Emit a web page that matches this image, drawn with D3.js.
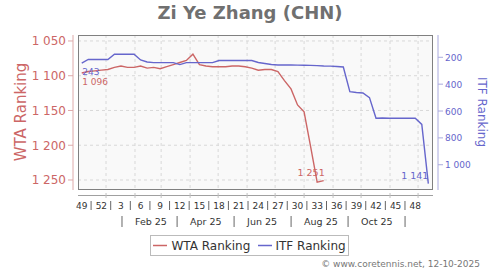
<!DOCTYPE html>
<html><head><meta charset="utf-8">
<script src="https://cdn.jsdelivr.net/npm/d3@7"></script>
<style>body{margin:0;background:#fff}svg{display:block;font-family:"DejaVu Sans",sans-serif}</style>
</head><body>
<script>
// ---------- data ----------
const chartTitle = "Zi Ye Zhang (CHN)";
const firstRankingDate = "2024-12-02";   // weekly rankings from here
const wtaRank = [1096,1094,1093,1092,1091,1088,1086,1088,1088,1086,1089,1088,1090,1087,1084,1081,1078,1069,1084,1086,
                 1087,1087,1087,1086,1086,1087,1089,1092,1091,1091,1094,1107,1119,1142,1152,1202,1253,1251];
const itfRank = [243,216,216,216,216,177,177,177,177,220,235,240,240,240,240,254,240,240,240,240,240,
                 224,224,224,224,224,224,239,246,254,257,257,257,258,259,260,262,265,266,268,272,
                 456,462,466,500,654,652,654,654,654,654,654,700,1141];
const wtaTicks = [1050,1100,1150,1200,1250];
const itfTicks = [200,400,600,800,1000];
const weekLabels = ["49","52","3","6","9","12","15","18","21","24","27","30","33","36","39","42","45","48"];
const monthLabels = ["Feb 25","Apr 25","Jun 25","Aug 25","Oct 25"];
const monthLabelDates = ["2025-02-01","2025-04-01","2025-06-01","2025-08-01","2025-10-01","2025-12-01"];
const gridMonths = ["2025-01-01","2025-02-01","2025-03-01","2025-04-01","2025-05-01","2025-06-01",
                    "2025-07-01","2025-08-01","2025-09-01","2025-10-01","2025-11-01","2025-12-01"];
const xDomain = ["2024-11-28","2025-12-13"];
const wtaDomain = [1041.4, 1264.4];
const itfDomain = [34, 1188];
const seriesNames = ["WTA Ranking","ITF Ranking"];
const copyright = "© www.coretennis.net, 12-10-2025";

// ---------- setup ----------
const W = 500, H = 270;
const red = "#cc6666", blue = "#6666cc";
const parse = d3.timeParse("%Y-%m-%d");
const fmt = d3.formatLocale({decimal:".", thousands:" ", grouping:[3], currency:["",""]}).format(",d");
const plot = {l:78, t:35, r:433, b:190};

const x = d3.scaleTime().domain(xDomain.map(parse)).range([plot.l, plot.r]);
const yW = d3.scaleLinear().domain(wtaDomain).range([plot.t, plot.b]);
const yI = d3.scaleLinear().domain(itfDomain).range([plot.t, plot.b]);

const start = parse(firstRankingDate);
const wtaData = wtaRank.map((v,i)=>({d:d3.timeWeek.offset(start,i), v}));
const itfData = itfRank.map((v,i)=>({d:d3.timeWeek.offset(start,i), v}));
const gridX = gridMonths.map(s => x(d3.timeDay.offset(parse(s), -4)));

const svg = d3.select("body").append("svg").attr("width",W).attr("height",H);

// title
svg.append("text").attr("x",250).attr("y",18.5).attr("text-anchor","middle")
  .attr("font-size",18).attr("font-weight","bold").attr("fill","#707070").text(chartTitle);

// plot background
svg.append("rect").attr("x",plot.l).attr("y",plot.t).attr("width",plot.r-plot.l).attr("height",plot.b-plot.t)
  .attr("fill","#f9f9f9");

// grid
svg.append("g").selectAll("line").data(wtaTicks).join("line")
  .attr("x1",plot.l).attr("x2",plot.r).attr("y1",d=>yW(d)).attr("y2",d=>yW(d))
  .attr("stroke","#d8d8d8").attr("stroke-dasharray","3,3");
svg.append("g").selectAll("line").data(gridX).join("line")
  .attr("x1",d=>d).attr("x2",d=>d).attr("y1",plot.t).attr("y2",plot.b)
  .attr("stroke","#d8d8d8").attr("stroke-dasharray","3,3");

// frame
svg.append("rect").attr("x",plot.l+0.5).attr("y",plot.t+0.5).attr("width",plot.r-plot.l-1).attr("height",plot.b-plot.t-1)
  .attr("fill","none").attr("stroke","#808080");

// left axis
const lax = svg.append("g").attr("transform","translate(73,0)");
lax.append("line").attr("y1",plot.t).attr("y2",plot.b).attr("stroke","#deaaaa");
lax.selectAll("line.t").data(wtaTicks).join("line").attr("class","t")
  .attr("x1",-5).attr("x2",0).attr("y1",d=>yW(d)).attr("y2",d=>yW(d)).attr("stroke","#deaaaa");
lax.selectAll("text").data(wtaTicks).join("text")
  .attr("x",-7).attr("y",d=>yW(d)+4.5).attr("text-anchor","end").attr("font-size",12).attr("fill",red).text(fmt);
svg.append("text").attr("transform","translate(26,112) rotate(-90)").attr("text-anchor","middle")
  .attr("font-size",15).attr("fill",red).text(seriesNames[0]);

// right axis
const rax = svg.append("g").attr("transform","translate(438,0)");
rax.append("line").attr("y1",plot.t).attr("y2",plot.b).attr("stroke","#aaaade");
rax.selectAll("line.t").data(itfTicks).join("line").attr("class","t")
  .attr("x1",0).attr("x2",5).attr("y1",d=>yI(d)).attr("y2",d=>yI(d)).attr("stroke","#aaaade");
rax.selectAll("text").data(itfTicks).join("text")
  .attr("x",7).attr("y",d=>yI(d)+3.5).attr("font-size",9).attr("fill",blue).text(fmt);
svg.append("text").attr("transform","translate(477.5,112) rotate(90)").attr("text-anchor","middle")
  .attr("font-size",12).attr("fill",blue).text(seriesNames[1]);

// x axis
svg.append("line").attr("x1",plot.l).attr("x2",plot.r).attr("y1",195.5).attr("y2",195.5).attr("stroke","#a0a0a0");
svg.append("g").selectAll("line").data(gridX).join("line")
  .attr("x1",d=>d).attr("x2",d=>d).attr("y1",193).attr("y2",198).attr("stroke","#c0c0c0");
const weekX = weekLabels.map((w,i)=>x(d3.timeWeek.offset(start,3*i)));
svg.append("g").selectAll("text").data(weekLabels).join("text")
  .attr("x",(d,i)=>weekX[i]).attr("y",208.5).attr("text-anchor","middle").attr("font-size",9).attr("fill","#333").text(d=>d);
const sepHalf = x(d3.timeDay.offset(start,10.5)) - x(start);
svg.append("g").selectAll("line").data(weekX.slice(0,-1)).join("line")
  .attr("x1",d=>d+sepHalf).attr("x2",d=>d+sepHalf).attr("y1",201).attr("y2",210).attr("stroke","#666");
const monthX = monthLabelDates.map(s => x(d3.timeDay.offset(parse(s), -4)));
svg.append("g").selectAll("text").data(monthLabels).join("text")
  .attr("x",(d,i)=>monthX[i]).attr("y",225).attr("font-size",9.5).attr("fill","#333").text(d=>d);
svg.append("g").selectAll("line").data(monthX).join("line")
  .attr("x1",d=>d-13).attr("x2",d=>d-13).attr("y1",216).attr("y2",227).attr("stroke","#666");

// lines
const lineW = d3.line().x(d=>x(d.d)).y(d=>yW(d.v));
const lineI = d3.line().x(d=>x(d.d)).y(d=>yI(d.v));
svg.append("path").datum(wtaData).attr("d",lineW).attr("fill","none").attr("stroke",red).attr("stroke-width",1.4);
svg.append("path").datum(itfData).attr("d",lineI).attr("fill","none").attr("stroke",blue).attr("stroke-width",1.4);

// end labels
const fW = wtaData[0], lW = wtaData[wtaData.length-1];
const fI = itfData[0], lI = itfData[itfData.length-1];
svg.append("text").attr("x",x(fI.d)+0.5).attr("y",yI(fI.v)+11.5).attr("font-size",9).attr("fill",blue).text(fmt(fI.v));
svg.append("text").attr("x",x(fW.d)+0.5).attr("y",yW(fW.v)+12.5).attr("font-size",9).attr("fill",red).text(fmt(fW.v));
svg.append("text").attr("x",x(lW.d)+1).attr("y",yW(lW.v)-5).attr("text-anchor","end").attr("font-size",9.5).attr("fill",red).text(fmt(lW.v));
svg.append("text").attr("x",x(lI.d)).attr("y",yI(lI.v)-5).attr("text-anchor","end").attr("font-size",9.5).attr("fill",blue).text(fmt(lI.v));

// legend
const lg = svg.append("g");
lg.append("rect").attr("x",150.5).attr("y",235.5).attr("width",198).attr("height",20).attr("fill","#fff").attr("stroke","#bbb");
[[153,171.5,red],[258,275.5,blue]].forEach(([lx,tx,c],i)=>{
  lg.append("line").attr("x1",lx).attr("x2",lx+14).attr("y1",245.5).attr("y2",245.5).attr("stroke",c).attr("stroke-width",1.5);
  lg.append("text").attr("x",tx).attr("y",250).attr("font-size",12).attr("fill","#333").text(seriesNames[i]);
});

svg.append("text").attr("x",480).attr("y",267).attr("text-anchor","end").attr("font-size",9).attr("fill","#777").text(copyright);
</script>
</body></html>
